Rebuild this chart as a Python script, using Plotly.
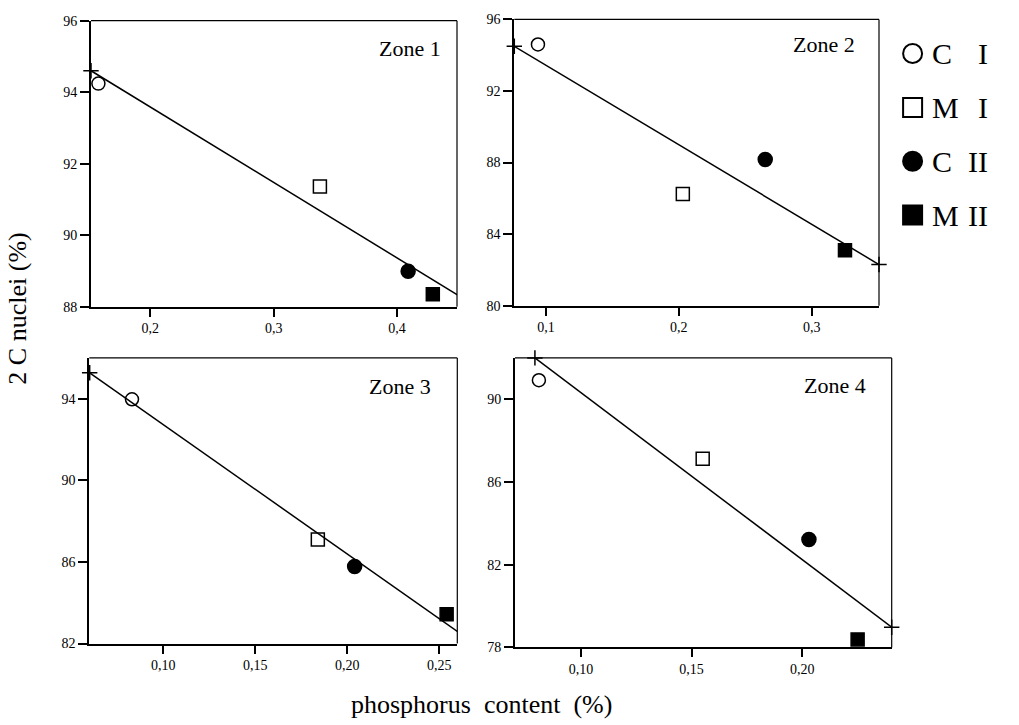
import plotly.graph_objects as go

FONT = "Liberation Serif"

# ---- data ----
series_names = ["C I", "M I", "C II", "M II"]
series_symbols = ["circle-open", "square-open", "circle", "square"]

zone_names = ["Zone 1", "Zone 2", "Zone 3", "Zone 4"]

zone1_x = [0.158, 0.3375, 0.409, 0.429]
zone1_y = [94.24, 91.36, 88.99, 88.35]
zone2_x = [0.094, 0.203, 0.265, 0.325]
zone2_y = [94.6, 86.24, 88.17, 83.1]
zone3_x = [0.083, 0.184, 0.204, 0.254]
zone3_y = [93.97, 87.1, 85.78, 83.44]
zone4_x = [0.081, 0.155, 0.203, 0.225]
zone4_y = [90.92, 87.12, 83.22, 78.39]

# regression line end points
fit1_x = [0.152, 0.449]
fit1_y = [94.6, 88.33]
fit2_x = [0.0762, 0.3506]
fit2_y = [94.5, 82.3]
fit3_x = [0.06, 0.26]
fit3_y = [95.27, 82.58]
fit4_x = [0.0792, 0.2404]
fit4_y = [92.0, 78.98]

# axis ticks
x_ticks = [[0.2, 0.3, 0.4], [0.1, 0.2, 0.3], [0.10, 0.15, 0.20, 0.25], [0.10, 0.15, 0.20]]
x_ticktext = [["0,2", "0,3", "0,4"], ["0,1", "0,2", "0,3"],
              ["0,10", "0,15", "0,20", "0,25"], ["0,10", "0,15", "0,20"]]
y_ticks = [[88, 90, 92, 94, 96], [80, 84, 88, 92, 96], [82, 86, 90, 94], [78, 82, 86, 90]]
x_ranges = [[0.152, 0.4486], [0.0762, 0.3506], [0.0598, 0.2598], [0.0702, 0.2404]]
y_ranges = [[88, 96], [80, 96], [82, 96], [78, 92]]

# ---- layout geometry ----
W, H = 1019, 725
boxes_px = [  # left, right, top, bottom (pixels)
    (91, 457, 14, 306),
    (514.3, 879, 12.7, 305),
    (89.3, 457.3, 358.3, 650),
    (515, 891.7, 358.3, 654),
]
zone_label_pos = [(0.962, 0.904), (0.94, 0.913), (0.934, 0.90), (0.937, 0.903)]

xs = [zone1_x, zone2_x, zone3_x, zone4_x]
ys = [zone1_y, zone2_y, zone3_y, zone4_y]
fxs = [fit1_x, fit2_x, fit3_x, fit4_x]
fys = [fit1_y, fit2_y, fit3_y, fit4_y]

fig = go.Figure()
layout = dict(
    width=W, height=H, margin=dict(l=0, r=0, t=0, b=0),
    paper_bgcolor="white", plot_bgcolor="white", showlegend=False,
    font=dict(family=FONT, color="black"),
)
shapes = []
annotations = []

for i in range(4):
    n = i + 1
    xa = "x" if n == 1 else f"x{n}"
    ya = "y" if n == 1 else f"y{n}"
    l, r, t, b = boxes_px[i]
    layout[f"xaxis{'' if n == 1 else n}"] = dict(
        domain=[l / W, r / W], range=x_ranges[i], anchor=ya,
        tickvals=x_ticks[i], ticktext=x_ticktext[i],
        ticks="outside", ticklen=8, tickwidth=1.5, tickcolor="black",
        showline=True, linewidth=2, linecolor="black",
        showgrid=False, zeroline=False,
        tickfont=dict(family=FONT, size=14, color="black"),
    )
    layout[f"yaxis{'' if n == 1 else n}"] = dict(
        domain=[1 - b / H, 1 - t / H], range=y_ranges[i], anchor=xa,
        tickvals=y_ticks[i],
        ticks="outside", ticklen=9, tickwidth=1.5, tickcolor="black",
        showline=True, linewidth=2, linecolor="black",
        showgrid=False, zeroline=False,
        tickfont=dict(family=FONT, size=14, color="black"),
    )
    # thin top and right frame
    shapes.append(dict(type="line", xref=f"{xa} domain", yref=f"{ya} domain",
                       x0=0, x1=1, y0=1, y1=1, line=dict(color="black", width=1.2)))
    shapes.append(dict(type="line", xref=f"{xa} domain", yref=f"{ya} domain",
                       x0=1, x1=1, y0=0, y1=1, line=dict(color="black", width=1.2)))
    # regression line
    fig.add_trace(go.Scatter(
        x=fxs[i], y=fys[i], xaxis=xa, yaxis=ya, mode="lines+markers",
        line=dict(color="black", width=1.5),
        marker=dict(symbol="cross-thin", size=11, color="black", opacity=1,
                    line=dict(color="black", width=1.5)),
        cliponaxis=False, hoverinfo="skip",
    ))
    # data points
    fig.add_trace(go.Scatter(
        x=xs[i], y=ys[i], xaxis=xa, yaxis=ya, mode="markers",
        marker=dict(symbol=series_symbols, size=[13, 13, 14, 13], color="black",
                    opacity=1, line=dict(color="black", width=1.5)),
        text=series_names, cliponaxis=False,
    ))
    zx, zy = zone_label_pos[i]
    annotations.append(dict(text=zone_names[i], xref=f"{xa} domain", yref=f"{ya} domain",
                            x=zx, y=zy, xanchor="right", yanchor="middle", showarrow=False,
                            font=dict(family=FONT, size=22, color="black")))

# ---- legend drawn on its own hidden axes ----
legend_idx = [0, 1, 2, 3]
layout["xaxis5"] = dict(domain=[896.7 / W, 1.0], range=[0, 1], visible=False, anchor="y5")
layout["yaxis5"] = dict(domain=[1 - 240 / H, 1 - 20 / H], range=[3.5, -0.5], visible=False, anchor="x5")
fig.add_trace(go.Scatter(
    x=[0.13] * 4, y=legend_idx, xaxis="x5", yaxis="y5", mode="markers",
    marker=dict(symbol=series_symbols, size=19, color="black", opacity=1,
                line=dict(color="black", width=2)),
    cliponaxis=False, hoverinfo="skip",
))
for k, name in enumerate(series_names):
    letter, numeral = name.split(" ")
    annotations.append(dict(text=letter, xref="x5", yref="y5", x=0.272, y=legend_idx[k],
                            xanchor="left", yanchor="middle", showarrow=False,
                            font=dict(family=FONT, size=30, color="black")))
    annotations.append(dict(text=numeral, xref="x5", yref="y5", x=0.763, y=legend_idx[k],
                            xanchor="right", yanchor="middle", showarrow=False,
                            font=dict(family=FONT, size=30, color="black")))

# axis titles
annotations.append(dict(text="2 C nuclei (%)", xref="paper", yref="paper",
                        x=18 / W, y=1 - 308 / H, textangle=-90, showarrow=False,
                        xanchor="center", yanchor="middle",
                        font=dict(family=FONT, size=26, color="black")))
annotations.append(dict(text="phosphorus\u00a0\u00a0content\u00a0\u00a0(%)", xref="paper", yref="paper",
                        x=481 / W, y=1 - 712 / H, showarrow=False,
                        xanchor="center", yanchor="middle",
                        font=dict(family=FONT, size=26, color="black")))

layout["shapes"] = shapes
layout["annotations"] = annotations
fig.update_layout(**layout)
fig.write_html("out.html", config={"displayModeBar": False},
               post_script="document.body.style.margin='0';document.body.style.overflow='hidden';")
